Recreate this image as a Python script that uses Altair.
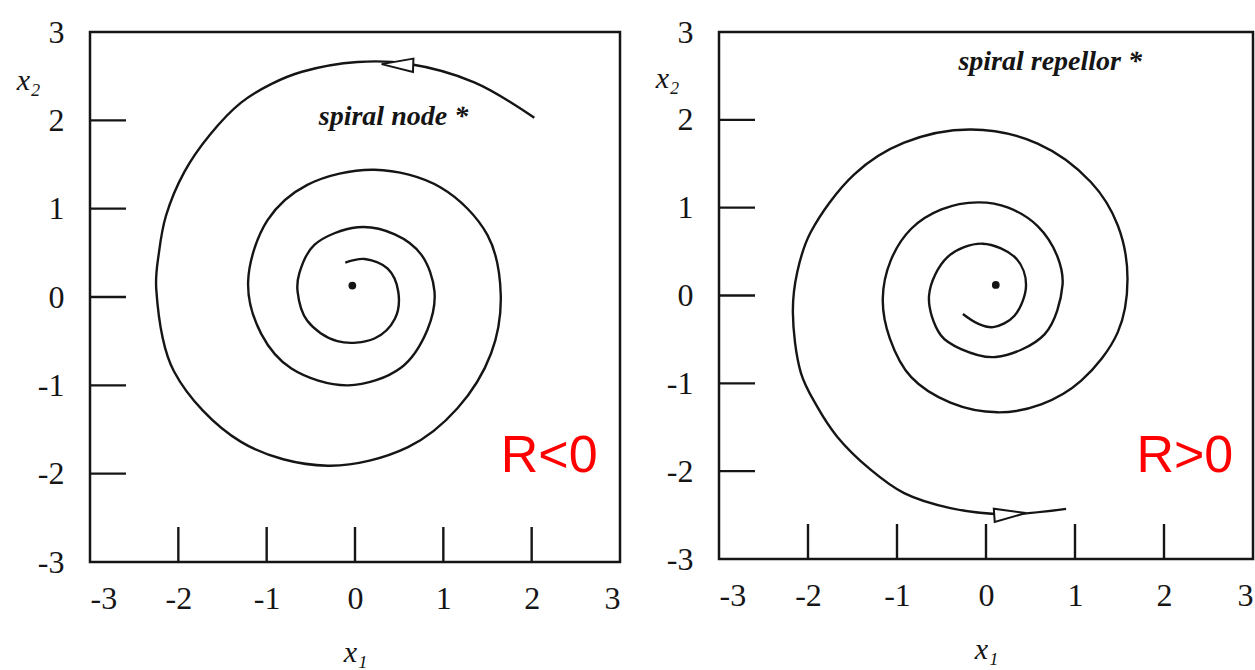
import altair as alt
import pandas as pd

# Trajectory of the spiral node (R<0): winds counter-clockwise inward
node_x1 = [2.03, 1.35, 0.60, 0.03, -0.60, -0.95, -1.29, -1.64, -1.93, -2.14, -2.22, -2.25,
           -2.05, -1.29, -0.31, 0.60, 1.16, 1.54, 1.65, 1.50, 0.97, 0.22, -0.54, -0.99,
           -1.21, -1.06, -0.72, -0.08, 0.52, 0.82, 0.90, 0.75, 0.45, 0.03, -0.46, -0.63,
           -0.65, -0.54, -0.20, 0.22, 0.45, 0.49, 0.37, 0.11, -0.11]
node_x2 = [2.03, 2.43, 2.64, 2.66, 2.55, 2.41, 2.20, 1.84, 1.42, 0.92, 0.50, 0.09,
           -0.84, -1.64, -1.91, -1.70, -1.26, -0.64, 0.02, 0.70, 1.24, 1.44, 1.27, 0.87,
           0.17, -0.42, -0.81, -1.00, -0.80, -0.37, 0.06, 0.48, 0.71, 0.79, 0.59, 0.27,
           0.06, -0.27, -0.50, -0.47, -0.25, 0.06, 0.32, 0.43, 0.39]

# Trajectory of the spiral repellor (R>0): winds counter-clockwise outward
rep_x1 = [-0.26, -0.09, 0.08, 0.32, 0.45, 0.34, -0.04, -0.43, -0.64, -0.51, -0.28, 0.11,
          0.66, 0.86, 0.80, 0.58, 0.25, -0.09, -0.50, -0.84, -1.07, -1.16, -1.08, -0.84,
          -0.40, 0.13, 0.62, 1.07, 1.48, 1.59, 1.48, 1.18, 0.58, -0.17, -0.92, -1.48,
          -1.97, -2.12, -2.17, -2.08, -1.90, -1.67, -1.30, -0.92, -0.40, 0.21, 0.90]
rep_x2 = [-0.21, -0.32, -0.36, -0.23, 0.12, 0.42, 0.59, 0.44, 0.00, -0.45, -0.61, -0.70,
          -0.44, 0.12, 0.45, 0.79, 1.00, 1.06, 0.98, 0.76, 0.40, -0.04, -0.49, -0.93,
          -1.22, -1.33, -1.24, -0.97, -0.42, 0.19, 0.80, 1.29, 1.73, 1.89, 1.74, 1.38,
          0.72, 0.27, -0.19, -0.88, -1.26, -1.61, -1.98, -2.25, -2.42, -2.49, -2.43]

# Fixed points
node_fixed = (-0.03, 0.13)
rep_fixed = (0.11, 0.12)

# Direction arrows on the trajectories: (x1, x2, angle)
node_arrow = (0.48, 2.63, 2)
rep_arrow = (0.27, -2.49, 176)

axis_values = [-3, -2, -1, 0, 1, 2, 3]
inner_ticks = [-2, -1, 0, 1, 2]

INK = "#151515"
SERIF = "Liberation Serif"
ARROW_PATH = "M-1,0L1,-0.42L1,0.42Z"


def panel(xs, ys, fixed, arrow, label, label_at, regime, regime_at, w, h, ytitle_xy):
    xscale = alt.Scale(domain=[-3, 3], nice=False, zero=False)
    yscale = alt.Scale(domain=[-3, 3], nice=False, zero=False)
    xaxis = alt.Axis(values=axis_values, labelExpr="'' + datum.value",
                     title="x\u2081", titleFont=SERIF,
                     titleFontStyle="italic", titleFontWeight="normal", titleFontSize=30,
                     titleColor=INK, titleY=90, titleBaseline="middle", labelPadding=21)
    yaxis = alt.Axis(values=axis_values, labelExpr="'' + datum.value",
                     title="x\u2082", titleFont=SERIF,
                     titleFontStyle="italic", titleFontWeight="normal", titleFontSize=30,
                     titleColor=INK, titleAngle=0, titleX=ytitle_xy[0], titleY=ytitle_xy[1],
                     titleAlign="center", titleBaseline="middle", labelPadding=26)

    def X(field=None, datum=None):
        if datum is not None:
            return alt.X(datum=datum, scale=xscale, axis=xaxis)
        return alt.X(field, type="quantitative", scale=xscale, axis=xaxis)

    def Y(field=None, datum=None):
        if datum is not None:
            return alt.Y(datum=datum, scale=yscale, axis=yaxis)
        return alt.Y(field, type="quantitative", scale=yscale, axis=yaxis)

    traj = pd.DataFrame({"x1": xs, "x2": ys, "i": list(range(len(xs)))})
    ticks = pd.DataFrame({"t": inner_ticks})

    line = alt.Chart(traj).mark_line(
        interpolate="catmull-rom", color=INK, strokeWidth=2.4
    ).encode(x=X("x1"), y=Y("x2"), order="i:Q")

    xticks = alt.Chart(ticks).mark_rule(color=INK, strokeWidth=2.4).encode(
        x=X("t"), y=alt.value(h), y2=alt.value(h - 35)
    )
    yticks = alt.Chart(ticks).mark_rule(color=INK, strokeWidth=2.4).encode(
        y=Y("t"), x=alt.value(0), x2=alt.value(36)
    )

    fixed_df = pd.DataFrame({"x1": [fixed[0]], "x2": [fixed[1]]})
    dot = alt.Chart(fixed_df).mark_point(
        filled=True, color=INK, size=60, opacity=1
    ).encode(x=X("x1"), y=Y("x2"))

    arrow_df = pd.DataFrame({"x1": [arrow[0]], "x2": [arrow[1]], "a": [arrow[2]]})
    arr = alt.Chart(arrow_df).mark_point(
        shape=ARROW_PATH, filled=True, fill="white", stroke=INK, strokeWidth=2,
        size=1000, opacity=1
    ).encode(x=X("x1"), y=Y("x2"), angle=alt.Angle("a:Q", scale=None))

    note = alt.Chart(pd.DataFrame({"s": [label]})).mark_text(
        font=SERIF, fontStyle="italic", fontWeight="bold", fontSize=28,
        align="left", baseline="alphabetic", color=INK
    ).encode(x=X(datum=label_at[0]), y=Y(datum=label_at[1]), text="s:N")

    tag = alt.Chart(pd.DataFrame({"s": [regime]})).mark_text(
        font="Liberation Sans", fontSize=52, align="left", baseline="alphabetic",
        color="#ff0000"
    ).encode(x=X(datum=regime_at[0]), y=Y(datum=regime_at[1]), text="s:N")

    return alt.layer(line, xticks, yticks, dot, arr, note, tag).properties(
        width=w, height=h
    )


left = panel(node_x1, node_x2, node_fixed, node_arrow, "spiral node *", (-0.41, 1.95),
             "R<0", (1.65, -1.98), 530, 530, (-62, 48))
right = panel(rep_x1, rep_x2, rep_fixed, rep_arrow, "spiral repellor *", (-0.31, 2.57),
              "R>0", (1.69, -2.01), 534, 527, (-52, 46))

chart = alt.hconcat(left, right, spacing=31).properties(
    padding={"left": 14, "top": 14, "right": 0, "bottom": 0}
).configure_view(
    stroke=INK, strokeWidth=2.5
).configure_axis(
    labelFont=SERIF, labelFontSize=32, labelColor=INK, domain=False, ticks=False,
    grid=False
)

chart.save("out.html", embed_options={"renderer": "svg", "actions": False})
